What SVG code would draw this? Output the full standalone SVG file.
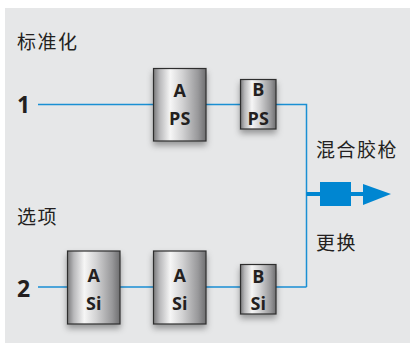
<svg xmlns="http://www.w3.org/2000/svg" width="410" height="343" viewBox="0 0 410 343">
<defs>
<linearGradient id="metal" x1="0" y1="0" x2="1" y2="0">
<stop offset="0" stop-color="#7a7a7c"/>
<stop offset="0.12" stop-color="#b9b9bb"/>
<stop offset="0.32" stop-color="#f6f6f6"/>
<stop offset="0.55" stop-color="#d2d2d3"/>
<stop offset="0.85" stop-color="#98989a"/>
<stop offset="1" stop-color="#6e6e70"/>
</linearGradient>
<filter id="sh" x="-30%" y="-20%" width="160%" height="150%">
<feDropShadow dx="0" dy="4" stdDeviation="3" flood-color="#000" flood-opacity="0.35"/>
</filter>
</defs>
<style>
.box{fill:url(#metal);stroke:#2e2e2e;stroke-width:1.2;filter:url(#sh)}
.bl{font-family:"Open Sans","Liberation Sans",sans-serif;font-weight:bold;font-size:18px;fill:#231f20;text-anchor:middle}
.num{font-family:"Open Sans","Liberation Sans",sans-serif;font-weight:bold;font-size:23px;fill:#231f20}
.cjk{font-family:"Noto Sans CJK SC","Noto Sans",sans-serif;font-size:19px;fill:#231f20;letter-spacing:1.5px}
.ln{stroke:#1a8fd3;stroke-width:1.5;fill:none}
</style>
<rect x="5" y="8" width="405" height="335" fill="#e6e7e8"/>
<text class="cjk" x="17" y="48.5">标准化</text>
<text class="cjk" x="17" y="223.5">选项</text>
<text class="cjk" x="316" y="156.5">混合胶枪</text>
<text class="cjk" x="316" y="249.5">更换</text>
<text class="num" x="17" y="113">1</text>
<text class="num" x="17" y="297">2</text>
<g id="connectors">
<path class="ln" d="M38 104.5H153M206 104.5H240M276 104.5H306.5V287M38 287H67M120 287H153M206 287H240M276 287H306.5"/>
<path d="M306.5 194H366" stroke="#0086d1" stroke-width="4" fill="none"/>
<rect x="320" y="182" width="31" height="24" fill="#0086d1"/>
<polygon points="363,184 391,194 363,205" fill="#0086d1"/>
</g>
<g id="aps"><rect class="box" x="153.5" y="68.5" width="52.5" height="72.5"/><text class="bl" x="179.7" y="97">A</text><text class="bl" x="179.7" y="125">PS</text></g>
<g id="bps"><rect class="box" x="240.5" y="79.5" width="35.5" height="49.5"/><text class="bl" x="258.2" y="95.5">B</text><text class="bl" x="258.2" y="125">PS</text></g>
<g id="asi1"><rect class="box" x="67.5" y="251" width="52.5" height="73"/><text class="bl" x="93.7" y="281.5">A</text><text class="bl" x="93.7" y="309.5">Si</text></g>
<g id="asi2"><rect class="box" x="153.5" y="251" width="52.5" height="73"/><text class="bl" x="179.7" y="281.5">A</text><text class="bl" x="179.7" y="309.5">Si</text></g>
<g id="bsi"><rect class="box" x="240.5" y="264.5" width="35.5" height="49.5"/><text class="bl" x="258.2" y="282.5">B</text><text class="bl" x="258.2" y="309.5">Si</text></g>
</svg>
